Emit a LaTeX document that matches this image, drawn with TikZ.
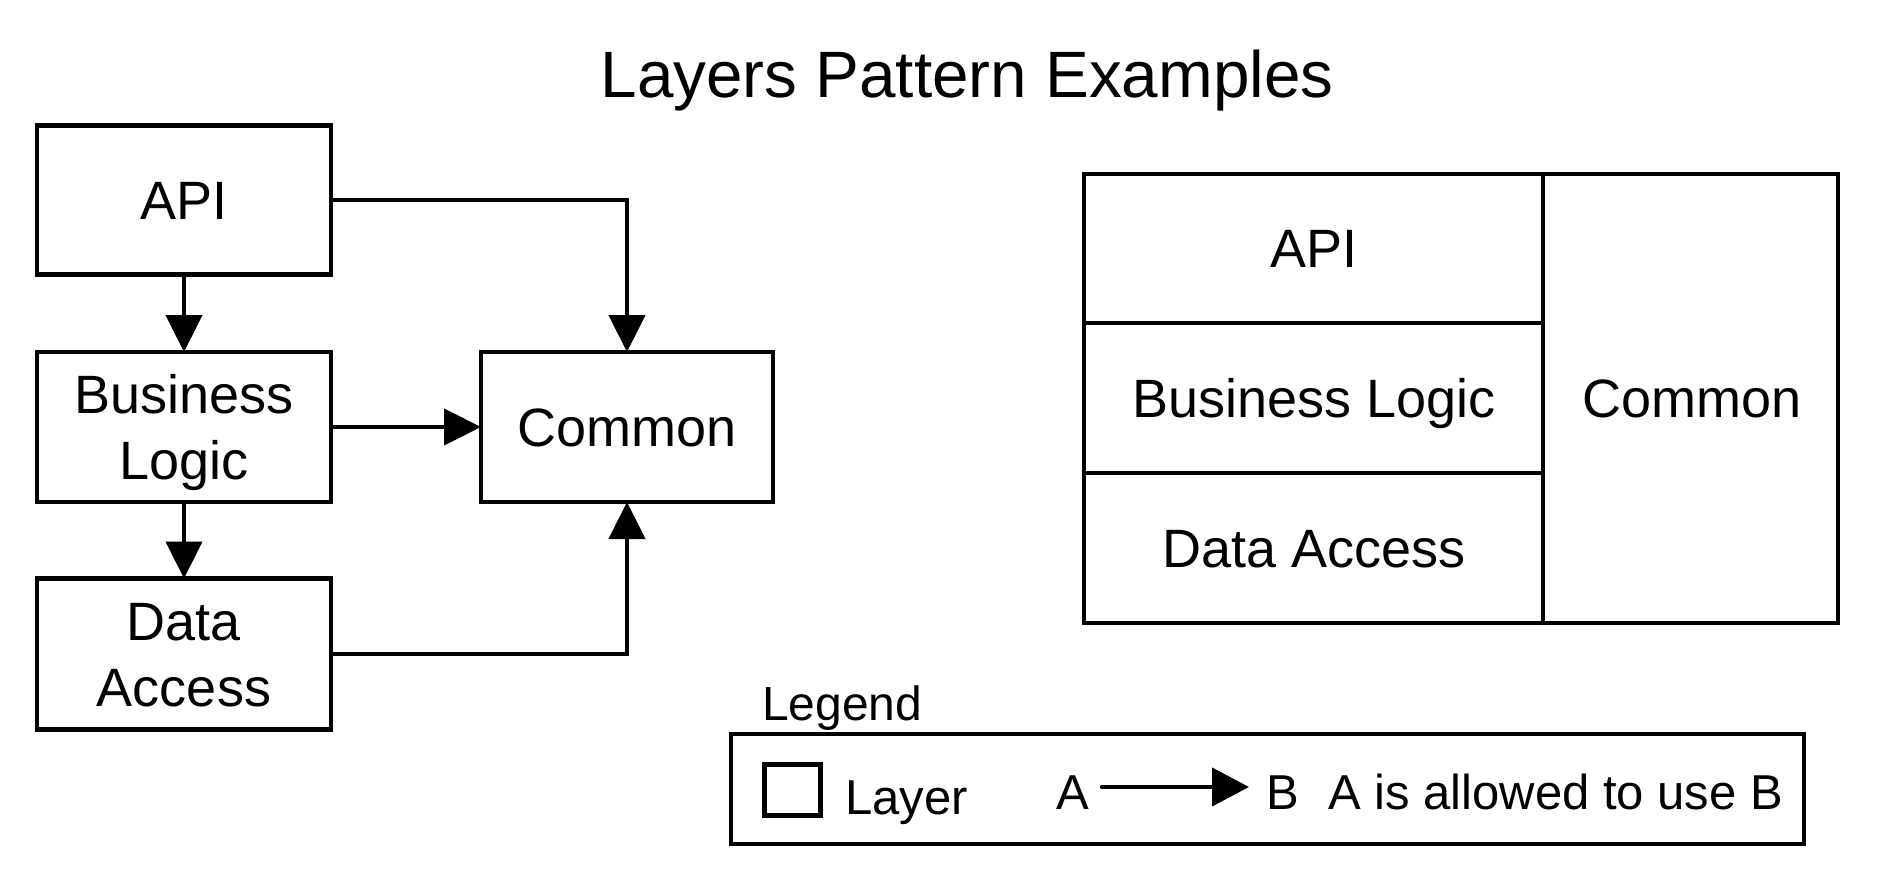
\documentclass[tikz,border=0pt]{standalone}
\usepackage{fontspec}
\setmainfont{Liberation Sans}
\usetikzlibrary{arrows.meta}
\begin{document}
\begin{tikzpicture}[x=1pt,y=-1pt,
  layerbox/.style={draw=black, line width=4.3pt, inner sep=0pt, outer sep=0pt},
  conn/.style={line width=4.5pt, -{Triangle[length=37pt,width=36pt]}},
  boxtext/.style={inner sep=0pt, anchor=base, font=\fontsize{54}{64}\selectfont},
  legtext/.style={inner sep=0pt, anchor=base west, font=\fontsize{49}{58}\selectfont}
]
\fill[white] (0,0) rectangle (1888,894);
\path[use as bounding box] (0,0) rectangle (1888,894);

% title
\node[inner sep=0pt, anchor=base, font=\fontsize{65.6}{78}\selectfont] (title) at (967,97) {Layers Pattern Examples};

% left diagram
\node[layerbox, minimum width=294pt, minimum height=149pt] (api) at (184,200) {};
\node[layerbox, minimum width=294pt, minimum height=150pt] (bl) at (184,427) {};
\node[layerbox, minimum width=294pt, minimum height=151pt] (da) at (184,654) {};
\node[layerbox, minimum width=292pt, minimum height=150pt] (common) at (627,427) {};

\node[boxtext] (apit) at (184,219) {API};
\node[boxtext] (blt1) at (184,413) {Business};
\node[boxtext] (blt2) at (184,479) {Logic};
\node[boxtext] (dat1) at (184,640) {Data};
\node[boxtext] (dat2) at (184,706) {Access};
\node[boxtext] (comt) at (627,446) {Common};

\draw[conn] (api.south) -- (bl.north);
\draw[conn] (bl.south) -- (da.north);
\draw[conn] (bl.east) -- (common.west);
\draw[conn] (api.east) -| (common.north);
\draw[conn] (da.east) -| (common.south);

% right diagram
\node[layerbox, minimum width=459pt, minimum height=149pt] (rapi) at (1313.5,248.5) {};
\node[layerbox, minimum width=459pt, minimum height=150pt] (rbl) at (1313.5,398) {};
\node[layerbox, minimum width=459pt, minimum height=150pt] (rda) at (1313.5,548) {};
\node[layerbox, minimum width=295pt, minimum height=449pt] (rcom) at (1690.5,398.5) {};

\node[boxtext] (rapit) at (1314,267) {API};
\node[boxtext] (rblt) at (1314,417) {Business Logic};
\node[boxtext] (rdat) at (1314,567) {Data Access};
\node[boxtext] (rcomt) at (1692,417) {Common};

% legend
\node[inner sep=0pt, anchor=base west, font=\fontsize{48}{58}\selectfont] (legtitle) at (762,720) {Legend};
\node[layerbox, minimum width=1073pt, minimum height=110pt] (legbox) at (1267.5,789) {};
\node[layerbox, minimum width=56pt, minimum height=51pt] (legsq) at (792.5,790) {};
\node[legtext] (leglayer) at (845,814) {Layer};
\node[legtext] (lega) at (1056,809) {A};
\coordinate (arrs) at (1102,787);
\coordinate (arre) at (1249,787);
\draw[line width=4.3pt, line cap=round, -{Triangle[length=37pt,width=38pt]}] (arrs) -- (arre);
\node[legtext] (legb) at (1266,809) {B};
\node[legtext] (legdesc) at (1328,809) {A is allowed to use B};
\end{tikzpicture}
\end{document}
